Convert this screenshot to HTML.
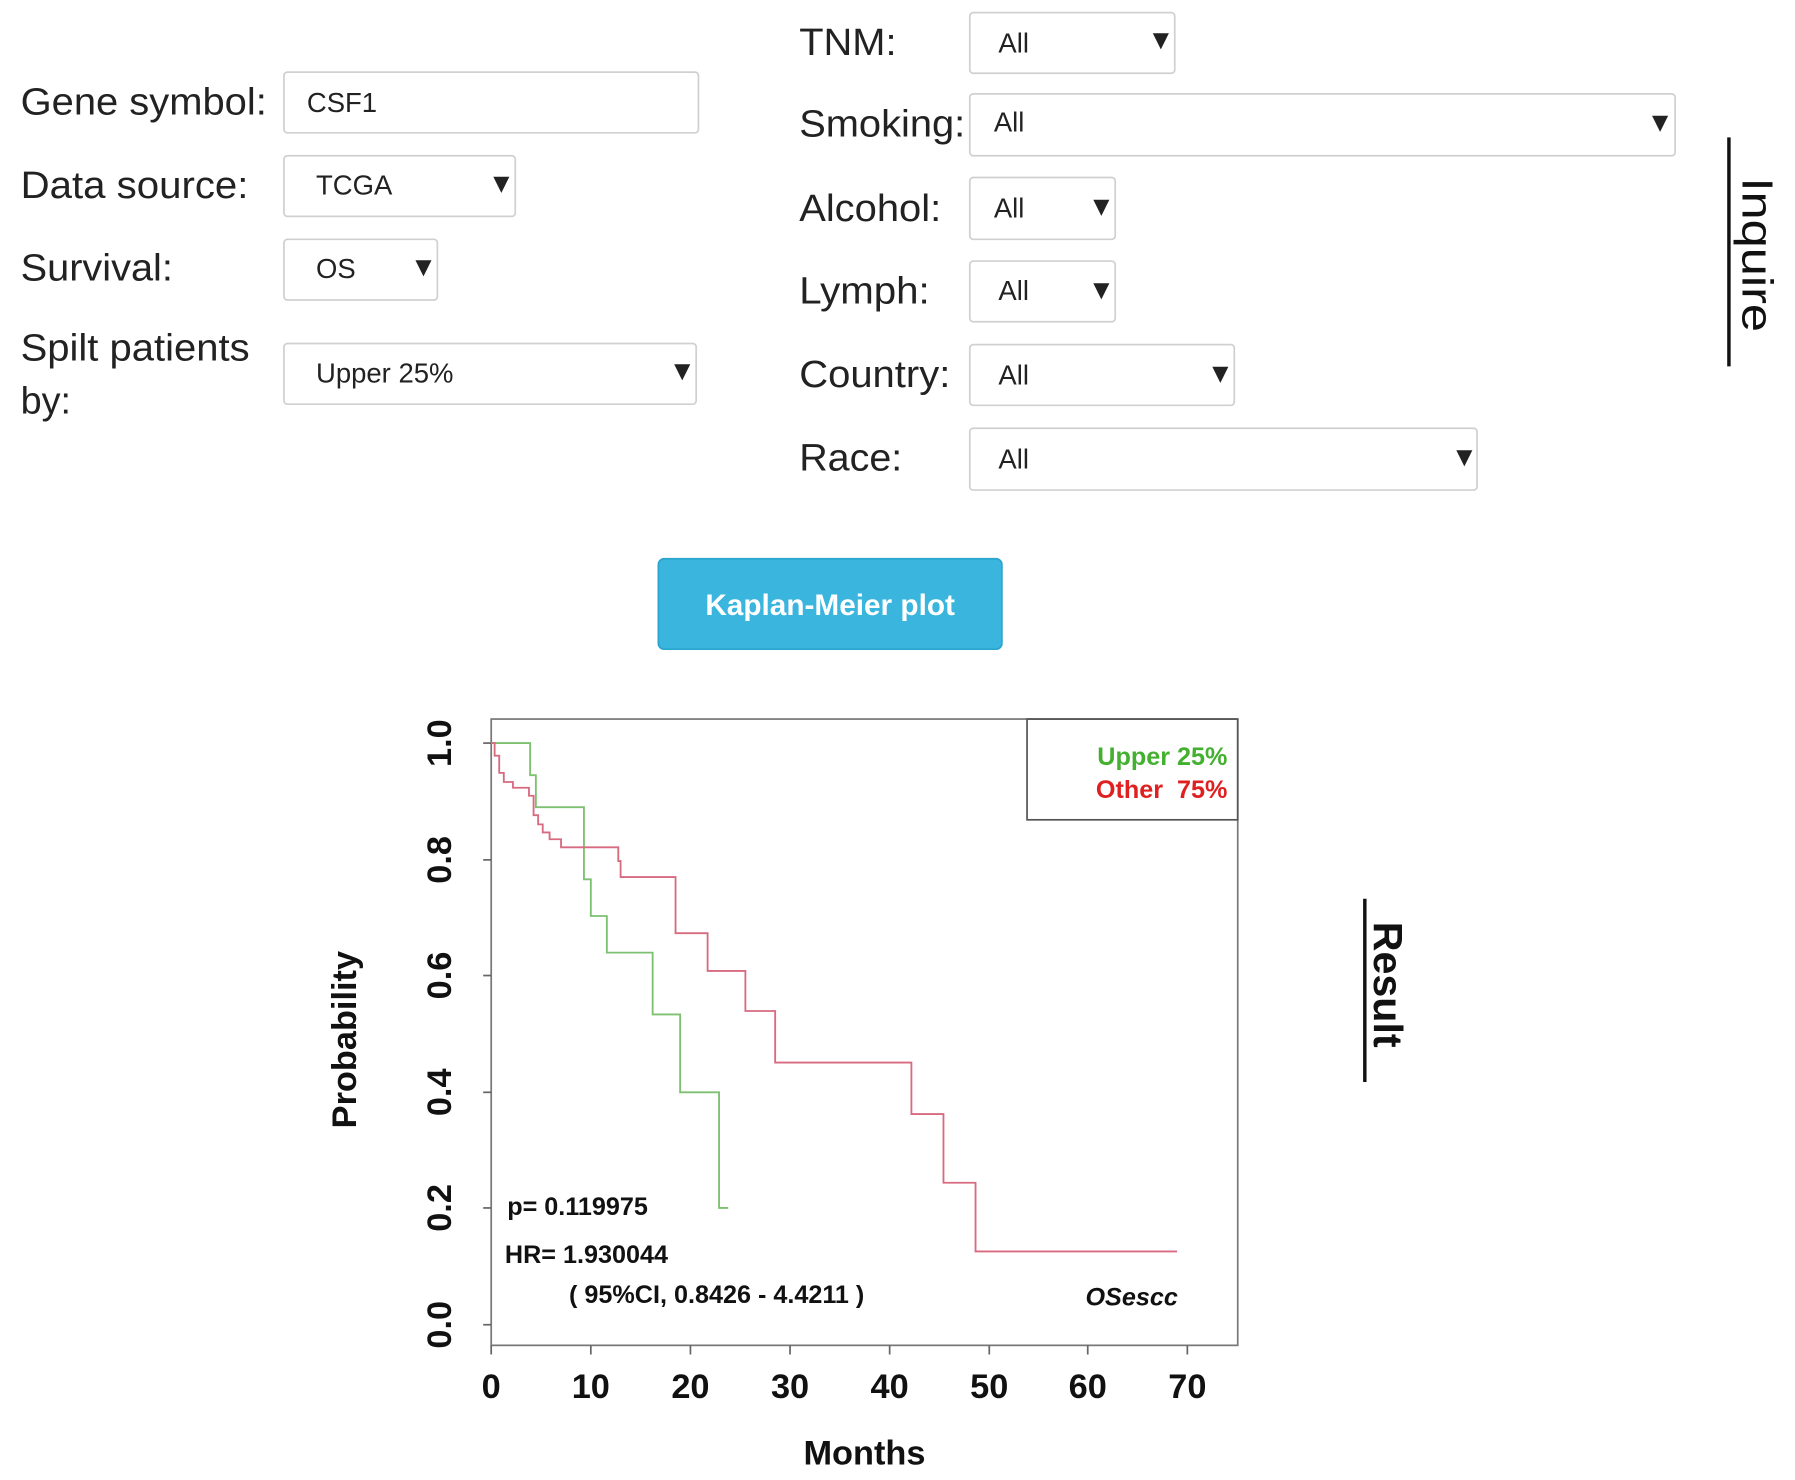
<!DOCTYPE html>
<html><head><meta charset="utf-8"><style>
html,body{margin:0;padding:0;background:#fff;}
svg{display:block;}
.lab{font-family:"Liberation Sans",Arial,sans-serif;font-size:33px;fill:#222;}
.val{font-family:"Liberation Sans",Arial,sans-serif;font-size:24px;fill:#222;}
.box{fill:#fff;stroke:#d0d0d0;stroke-width:1.5;}
.ax{font-family:"Liberation Sans",Arial,sans-serif;font-weight:bold;font-size:30px;fill:#111;}
.tx{font-family:"Liberation Sans",Arial,sans-serif;font-weight:bold;font-size:22px;fill:#111;}
</style></head><body>
<svg width="1795" height="1480" viewBox="0 0 1567.7 1292.6" xmlns="http://www.w3.org/2000/svg">
<!-- left form -->
<text class="lab" x="18" y="100" textLength="215" lengthAdjust="spacingAndGlyphs">Gene symbol:</text>
<rect class="box" x="248" y="63" width="362" height="53" rx="3"/>
<text class="val" x="268" y="98">CSF1</text>
<text class="lab" x="18" y="173" textLength="199" lengthAdjust="spacingAndGlyphs">Data source:</text>
<rect class="box" x="248" y="136" width="202" height="53" rx="3"/>
<text class="val" x="276" y="170">TCGA</text><text class="val" x="426" y="168" font-size="16">▼</text>
<text class="lab" x="18" y="245" textLength="133" lengthAdjust="spacingAndGlyphs">Survival:</text>
<rect class="box" x="248" y="209" width="134" height="53" rx="3"/>
<text class="val" x="276" y="243">OS</text><text class="val" x="358" y="241" font-size="16">▼</text>
<text class="lab" x="18" y="315" textLength="200" lengthAdjust="spacingAndGlyphs">Spilt patients</text>
<text class="lab" x="18" y="361">by:</text>
<rect class="box" x="248" y="300" width="360" height="53" rx="3"/>
<text class="val" x="276" y="334">Upper 25%</text><text class="val" x="584" y="332" font-size="16">▼</text>
<!-- right form -->
<text class="lab" x="698" y="48" textLength="85" lengthAdjust="spacingAndGlyphs">TNM:</text>
<rect class="box" x="847" y="11" width="179" height="53" rx="3"/>
<text class="val" x="872" y="46">All</text><text class="val" x="1002" y="43" font-size="16">▼</text>
<text class="lab" x="698" y="119" textLength="145" lengthAdjust="spacingAndGlyphs">Smoking:</text>
<rect class="box" x="847" y="82" width="616" height="54" rx="3"/>
<text class="val" x="868" y="115">All</text><text class="val" x="1438" y="115" font-size="16">▼</text>
<text class="lab" x="698" y="193" textLength="124" lengthAdjust="spacingAndGlyphs">Alcohol:</text>
<rect class="box" x="847" y="155" width="127" height="54" rx="3"/>
<text class="val" x="868" y="190">All</text><text class="val" x="950" y="188" font-size="16">▼</text>
<text class="lab" x="698" y="265" textLength="114" lengthAdjust="spacingAndGlyphs">Lymph:</text>
<rect class="box" x="847" y="228" width="127" height="53" rx="3"/>
<text class="val" x="872" y="262">All</text><text class="val" x="950" y="261" font-size="16">▼</text>
<text class="lab" x="698" y="338" textLength="132" lengthAdjust="spacingAndGlyphs">Country:</text>
<rect class="box" x="847" y="301" width="231" height="53" rx="3"/>
<text class="val" x="872" y="336">All</text><text class="val" x="1054" y="334" font-size="16">▼</text>
<text class="lab" x="698" y="411" textLength="90" lengthAdjust="spacingAndGlyphs">Race:</text>
<rect class="box" x="847" y="374" width="443" height="54" rx="3"/>
<text class="val" x="872" y="409">All</text><text class="val" x="1267" y="407" font-size="16">▼</text>
<!-- Inquire -->
<line x1="1510" y1="120" x2="1510" y2="320" stroke="#111" stroke-width="3"/>
<text transform="translate(1522,155) rotate(90)" font-family="Liberation Sans,Arial,sans-serif" font-size="38" fill="#111" textLength="135" lengthAdjust="spacingAndGlyphs">Inquire</text>
<!-- button -->
<rect x="575" y="488" width="300" height="79" rx="5" fill="#3ab5dd" stroke="#2aa5cd" stroke-width="1.5"/>
<text x="725" y="537" text-anchor="middle" font-family="Liberation Sans,Arial,sans-serif" font-weight="bold" font-size="26" fill="#fff">Kaplan-Meier plot</text>
<!-- plot -->
<rect x="429" y="628" width="652" height="547" fill="none" stroke="#777" stroke-width="1.5"/>
<rect x="897" y="628" width="184" height="88" fill="none" stroke="#555" stroke-width="1.5"/>
<text x="1072" y="668" text-anchor="end" class="tx" style="fill:#44b030">Upper 25%</text>
<text x="1072" y="697" text-anchor="end" class="tx" style="fill:#e02020;white-space:pre" xml:space="preserve">Other  75%</text>
<g stroke="#666" stroke-width="1.5">
<line x1="429" y1="1157" x2="422" y2="1157"/><line x1="429" y1="1055" x2="422" y2="1055"/>
<line x1="429" y1="954" x2="422" y2="954"/><line x1="429" y1="852" x2="422" y2="852"/>
<line x1="429" y1="751" x2="422" y2="751"/><line x1="429" y1="649" x2="422" y2="649"/>
<line x1="429" y1="1175" x2="429" y2="1183"/><line x1="516" y1="1175" x2="516" y2="1183"/>
<line x1="603" y1="1175" x2="603" y2="1183"/><line x1="690" y1="1175" x2="690" y2="1183"/>
<line x1="777" y1="1175" x2="777" y2="1183"/><line x1="864" y1="1175" x2="864" y2="1183"/>
<line x1="950" y1="1175" x2="950" y2="1183"/><line x1="1037" y1="1175" x2="1037" y2="1183"/>
</g>
<g class="ax" text-anchor="middle">
<text transform="translate(394,1157) rotate(-90)">0.0</text>
<text transform="translate(394,1055) rotate(-90)">0.2</text>
<text transform="translate(394,954) rotate(-90)">0.4</text>
<text transform="translate(394,852) rotate(-90)">0.6</text>
<text transform="translate(394,751) rotate(-90)">0.8</text>
<text transform="translate(394,649) rotate(-90)">1.0</text>
<text transform="translate(311,908) rotate(-90)">Probability</text>
<text x="429" y="1221">0</text><text x="516" y="1221">10</text><text x="603" y="1221">20</text>
<text x="690" y="1221">30</text><text x="777" y="1221">40</text><text x="864" y="1221">50</text>
<text x="950" y="1221">60</text><text x="1037" y="1221">70</text>
<text x="755" y="1279">Months</text>
</g>
<polyline fill="none" stroke="#7cc070" stroke-width="1.6" points="429,649 463,649 463,677 468,677 468,705 510,705 510,768 516,768 516,800 530,800 530,832 570,832 570,886 594,886 594,954 628,954 628,1055 636,1055"/>
<polyline fill="none" stroke="#d86a80" stroke-width="1.6" points="429,649 432,649 432,660 436,660 436,675 440,675 440,683 448,683 448,688 462,688 462,695 466,695 466,712 470,712 470,720 474,720 474,727 480,727 480,733 490,733 490,740 540,740 540,752 542,752 542,766 590,766 590,815 618,815 618,848 651,848 651,883 677,883 677,928 796,928 796,973 824,973 824,1033 852,1033 852,1093 1028,1093"/>
<text class="tx" x="443" y="1061">p= 0.119975</text>
<text class="tx" x="441" y="1103">HR= 1.930044</text>
<text class="tx" x="497" y="1138">( 95%CI, 0.8426 - 4.4211 )</text>
<text class="tx" x="948" y="1140" font-style="italic">OSescc</text>
<!-- Result -->
<line x1="1192" y1="785" x2="1192" y2="945" stroke="#111" stroke-width="3"/>
<text transform="translate(1200,805) rotate(90)" font-family="Liberation Sans,Arial,sans-serif" font-weight="bold" font-size="36" fill="#111">Result</text>
</svg>
</body></html>
